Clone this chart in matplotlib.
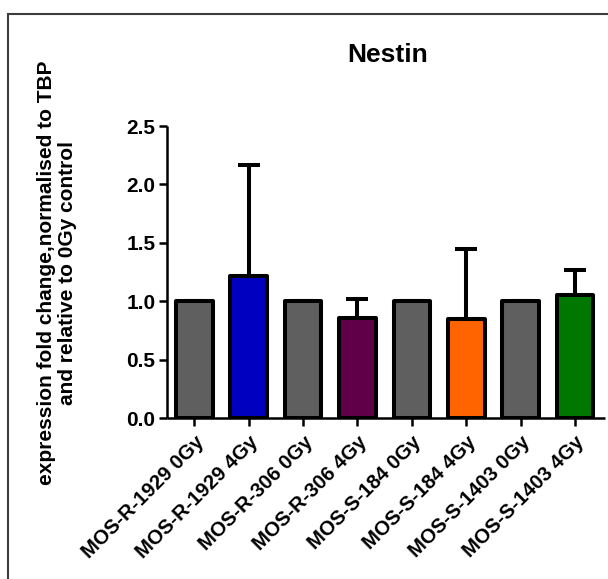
import matplotlib
matplotlib.use("Agg")
import matplotlib.pyplot as plt
from matplotlib.patches import Rectangle
import numpy as np

# Nestin expression, fold change vs 0Gy control (normalised to TBP)
categories = ["MOS-R-1929 0Gy", "MOS-R-1929 4Gy", "MOS-R-306 0Gy", "MOS-R-306 4Gy",
              "MOS-S-184 0Gy", "MOS-S-184 4Gy", "MOS-S-1403 0Gy", "MOS-S-1403 4Gy"]
values = [1.00, 1.22, 1.00, 0.86, 1.00, 0.85, 1.00, 1.05]
errors_upper = [0.0, 0.95, 0.0, 0.16, 0.0, 0.60, 0.0, 0.22]
colors = ["#5f5f5f", "#0000c0", "#5f5f5f", "#600048",
          "#5f5f5f", "#ff6400", "#5f5f5f", "#007800"]
yticks = [0.0, 0.5, 1.0, 1.5, 2.0, 2.5]

plt.rcParams["font.family"] = ["Liberation Sans", "DejaVu Sans"]
plt.rcParams["font.weight"] = "bold"

W, H = 608, 579
fig = plt.figure(figsize=(W / 100, H / 100), dpi=100)

# outer frame (right and bottom sides fall outside the canvas)
frame_top = 1 - 14 / H
fig.add_artist(Rectangle((8 / W, -0.2), 1.2, frame_top + 0.2,
                         transform=fig.transFigure, fill=False,
                         edgecolor="#3c3c3c", linewidth=1.5))

ax_l, ax_r = 166.7 / W, 605 / W
ax_b, ax_t = 1 - 418 / H, 1 - 126 / H
ax = fig.add_axes([ax_l, ax_b, ax_r - ax_l, ax_t - ax_b])

x = np.arange(len(categories))
ax.bar(x, values, width=0.67, color=colors, edgecolor="black",
       linewidth=2.9, joinstyle="round", zorder=2)
ax.errorbar(x, values, yerr=[np.zeros(len(values)), errors_upper], fmt="none",
            ecolor="black", elinewidth=2.9, capsize=8, capthick=2.9, zorder=1)

ax.set_xlim(-0.507, 7.55)
ax.set_ylim(0, 2.5)
ax.set_yticks(yticks)
ax.set_yticklabels([f"{t:.1f}" for t in yticks], fontsize=15, fontweight="bold")
ax.set_xticks(x)
ax.set_xticklabels(categories, rotation=45, ha="right", va="top",
                   rotation_mode="anchor", fontsize=14.7, fontweight="bold")

for s in ["top", "right"]:
    ax.spines[s].set_visible(False)
for s in ["left", "bottom"]:
    ax.spines[s].set_linewidth(1.8)
    ax.spines[s].set_capstyle("butt")
ax.tick_params(axis="y", length=5.5, width=1.8, pad=2.5)
ax.tick_params(axis="x", length=5.5, width=1.8, pad=5)

fig.text(387.5 / W, 1 - 61.7 / H, "Nestin", ha="center", va="baseline",
         fontsize=19, fontweight="bold")
fig.text(57 / W, 1 - 273 / H,
         "expression fold change,normalised to TBP\nand relative to 0Gy control",
         rotation=90, ha="center", va="center", multialignment="center",
         fontsize=15, fontweight="bold", linespacing=1.1)

fig.savefig("out.png", dpi=100)
